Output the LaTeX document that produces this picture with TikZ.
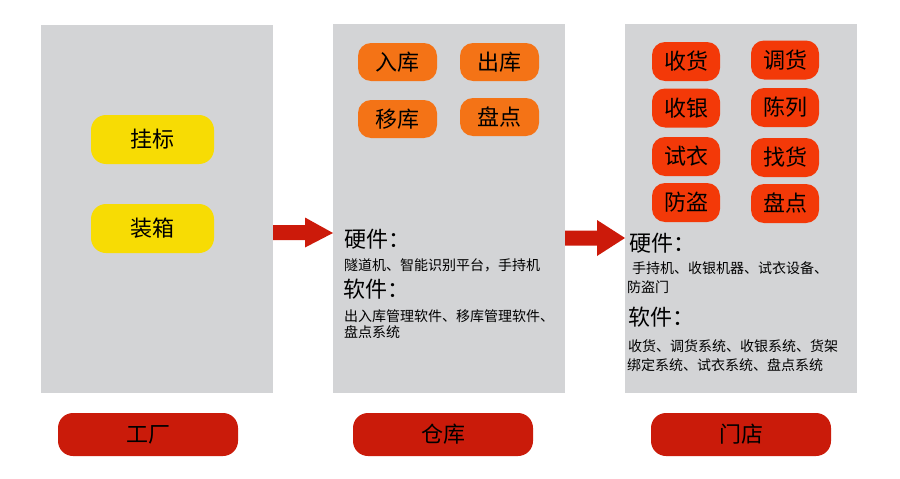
\documentclass[tikz,border=0pt]{standalone}
\usepackage{fontspec}
\setmainfont{Noto Sans CJK SC}
\usetikzlibrary{calc}
\definecolor{panelgray}{HTML}{D3D4D6}
\definecolor{boxyellow}{HTML}{F7DC04}
\definecolor{boxorange}{HTML}{F47316}
\definecolor{boxred}{HTML}{F33908}
\definecolor{labelred}{HTML}{CA1B0A}
\definecolor{arrowred}{HTML}{CC1A0A}
\tikzset{
  panel/.style={fill=panelgray, draw=none, inner sep=0, outer sep=0, minimum width=232, minimum height=369},
  tag/.style={rounded corners=13, draw=none, inner sep=0, outer sep=0, font=\fontsize{22}{24}\selectfont, text=black},
  ybox/.style={tag, fill=boxyellow, minimum width=123, minimum height=49, rounded corners=15},
  obox/.style={tag, fill=boxorange, minimum width=79, minimum height=38},
  rbox/.style={tag, fill=boxred, minimum width=68, minimum height=39},
  lbox/.style={tag, fill=labelred, minimum width=180, minimum height=43, rounded corners=15},
  head/.style={anchor=west, inner sep=0, font=\fontsize{22}{24}\selectfont},
  body/.style={anchor=west, inner sep=0, font=\fontsize{14}{16}\selectfont},
}
\begin{document}
\begin{tikzpicture}[x=1pt,y=-1pt]
\useasboundingbox (0,0) rectangle (900,479);
% panels
\node[panel, minimum height=368] (factory) at (157,209) {};
\node[panel] (warehouse) at (449,208.5) {};
\node[panel] (store) at (741,208.5) {};
% factory boxes
\node[ybox] (guabiao) at (152.5,139.5) {挂标};
\node[ybox] (zhuangxiang) at (152.5,228.5) {装箱};
% warehouse boxes
\node[obox] (ruku) at (397.5,62) {入库};
\node[obox] (chuku) at (499.5,62) {出库};
\node[obox] (yiku) at (397.5,119) {移库};
\node[obox] (pandianw) at (499.5,117) {盘点};
% store boxes
\node[rbox] (shouhuo) at (686,61.5) {收货};
\node[rbox] (diaohuo) at (785,60) {调货};
\node[rbox] (shouyin) at (686,108) {收银};
\node[rbox] (chenlie) at (785,107.5) {陈列};
\node[rbox] (shiyi) at (686,156.5) {试衣};
\node[rbox] (zhaohuo) at (785,157.5) {找货};
\node[rbox] (fangdao) at (686,202.5) {防盗};
\node[rbox] (pandians) at (785,203.5) {盘点};
% warehouse text
\node[head] (wh1) at (344,239) {硬件：};
\node[body] (wb1) at (344,265) {隧道机、智能识别平台，手持机};
\node[head] (wh2) at (343,289) {软件：};
\node[body] (wb2) at (344,316) {出入库管理软件、移库管理软件、};
\node[body] (wb3) at (344,332) {盘点系统};
% store text
\node[head] (sh1) at (629,243) {硬件：};
\node[body] (sb1) at (632,268) {手持机、收银机器、试衣设备、};
\node[body] (sb2) at (627,287) {防盗门};
\node[head] (sh2) at (628,317) {软件：};
\node[body] (sb3) at (628,346) {收货、调货系统、收银系统、货架};
\node[body] (sb4) at (627,365) {绑定系统、试衣系统、盘点系统};
% bottom labels
\node[lbox] (gongchang) at (148,434.5) {工厂};
\node[lbox] (cangku) at (443,434.5) {仓库};
\node[lbox] (mendian) at (741,434.5) {门店};
% arrows
\coordinate (a1s) at ($(factory.east)+(0,23.5)$);
\coordinate (a1t) at ($(warehouse.west)+(0,24.5)$);
\fill[arrowred] ($(a1s)+(0,-7.5)$) -- ($(a1s)+(32,-7.5)$) -- ($(a1s)+(32,-15)$) -- (a1t)
  -- ($(a1s)+(32,15)$) -- ($(a1s)+(32,7.5)$) -- ($(a1s)+(0,7.5)$) -- cycle;
\coordinate (a2s) at ($(warehouse.east)+(0,29.5)$);
\coordinate (a2t) at ($(store.west)+(0,29.5)$);
\fill[arrowred] ($(a2s)+(0,-7.5)$) -- ($(a2s)+(32,-7.5)$) -- ($(a2s)+(32,-18)$) -- (a2t)
  -- ($(a2s)+(32,18)$) -- ($(a2s)+(32,7.5)$) -- ($(a2s)+(0,7.5)$) -- cycle;
\end{tikzpicture}
\end{document}
